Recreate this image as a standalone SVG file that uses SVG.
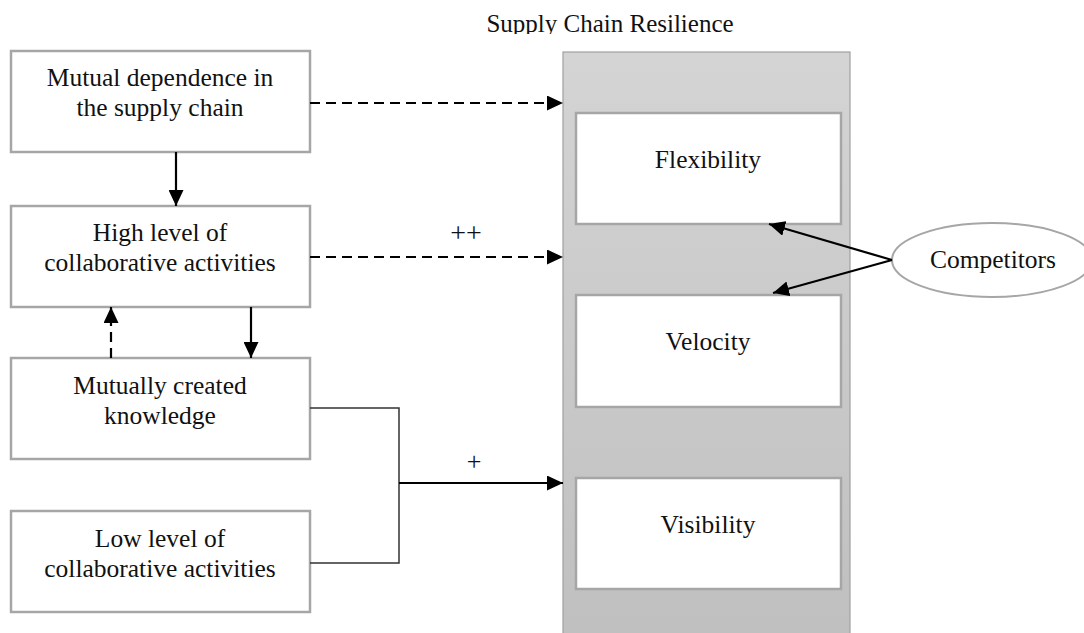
<svg xmlns="http://www.w3.org/2000/svg" width="1084" height="633" viewBox="0 0 1084 633">
<defs>
<linearGradient id="pg" x1="0" y1="0" x2="0" y2="1">
<stop offset="0" stop-color="#d4d4d4"/>
<stop offset="1" stop-color="#bfbfbf"/>
</linearGradient>
<clipPath id="tc"><rect x="0" y="0" width="1084" height="34"/></clipPath>
<marker id="ah" markerUnits="userSpaceOnUse" markerWidth="16" markerHeight="15" refX="16" refY="7.5" orient="auto">
<path d="M0,0 L16,7.5 L0,15 Z" fill="#000"/>
</marker>
<style>
.box{fill:#fff;stroke:#a6a6a6;stroke-width:2.5}
.t{font-family:"Liberation Serif","Times New Roman",serif;font-size:25.5px;fill:#111;text-anchor:middle}
.s{stroke:#000;stroke-width:2.2;fill:none}
.d{stroke:#000;stroke-width:2.2;fill:none;stroke-dasharray:10 6}
.thin{stroke:#333;stroke-width:1.5;fill:none}
</style>
</defs>
<rect width="1084" height="633" fill="#fff"/>
<text class="t" x="610" y="32" style="font-size:25px" clip-path="url(#tc)">Supply Chain Resilience</text>
<g id="panel">
<rect x="563" y="52" width="287" height="600" fill="url(#pg)" stroke="#a0a0a0" stroke-width="1.2"/>
</g>
<g id="n1"><rect class="box" x="11" y="51" width="299" height="101"/>
<text class="t" x="160" y="86">Mutual dependence in</text>
<text class="t" x="160" y="116">the supply chain</text></g>
<g id="n2"><rect class="box" x="11" y="206" width="299" height="101"/>
<text class="t" x="160" y="241">High level of</text>
<text class="t" x="160" y="271">collaborative activities</text></g>
<g id="n3"><rect class="box" x="11" y="358" width="299" height="101"/>
<text class="t" x="160" y="394">Mutually created</text>
<text class="t" x="160" y="424">knowledge</text></g>
<g id="n4"><rect class="box" x="11" y="511" width="299" height="101"/>
<text class="t" x="160" y="547">Low level of</text>
<text class="t" x="160" y="577">collaborative activities</text></g>
<g id="flex"><rect class="box" x="576" y="113" width="265" height="111"/>
<text class="t" x="708" y="168">Flexibility</text></g>
<g id="vel"><rect class="box" x="576" y="295" width="265" height="112"/>
<text class="t" x="708" y="350">Velocity</text></g>
<g id="vis"><rect class="box" x="576" y="478" width="265" height="111"/>
<text class="t" x="708" y="533">Visibility</text></g>
<g id="comp"><ellipse cx="992" cy="260" rx="100" ry="37" fill="#fff" stroke="#a6a6a6" stroke-width="2"/>
<text class="t" x="993" y="268">Competitors</text></g>
<g id="connectors">
<line class="s" x1="176" y1="152" x2="176" y2="206" marker-end="url(#ah)"/>
<line class="d" x1="310" y1="103" x2="563" y2="103" marker-end="url(#ah)"/>
<line class="d" x1="310" y1="257" x2="563" y2="257" marker-end="url(#ah)"/>
<text class="t" x="466" y="242" style="font-size:28px">++</text>
<line class="d" x1="111" y1="358" x2="111" y2="307" marker-end="url(#ah)"/>
<line class="s" x1="251" y1="307" x2="251" y2="358" marker-end="url(#ah)"/>
<polyline class="thin" points="310,408 399,408 399,563 310,563"/>
<line class="s" stroke-width="2.6" x1="399" y1="483" x2="563" y2="483" marker-end="url(#ah)"/>
<text class="t" x="474" y="470" style="font-size:26px">+</text>
<line class="s" x1="892" y1="260" x2="769" y2="224" marker-end="url(#ah)"/>
<line class="s" x1="892" y1="260" x2="773" y2="293" marker-end="url(#ah)"/>
</g>
</svg>
